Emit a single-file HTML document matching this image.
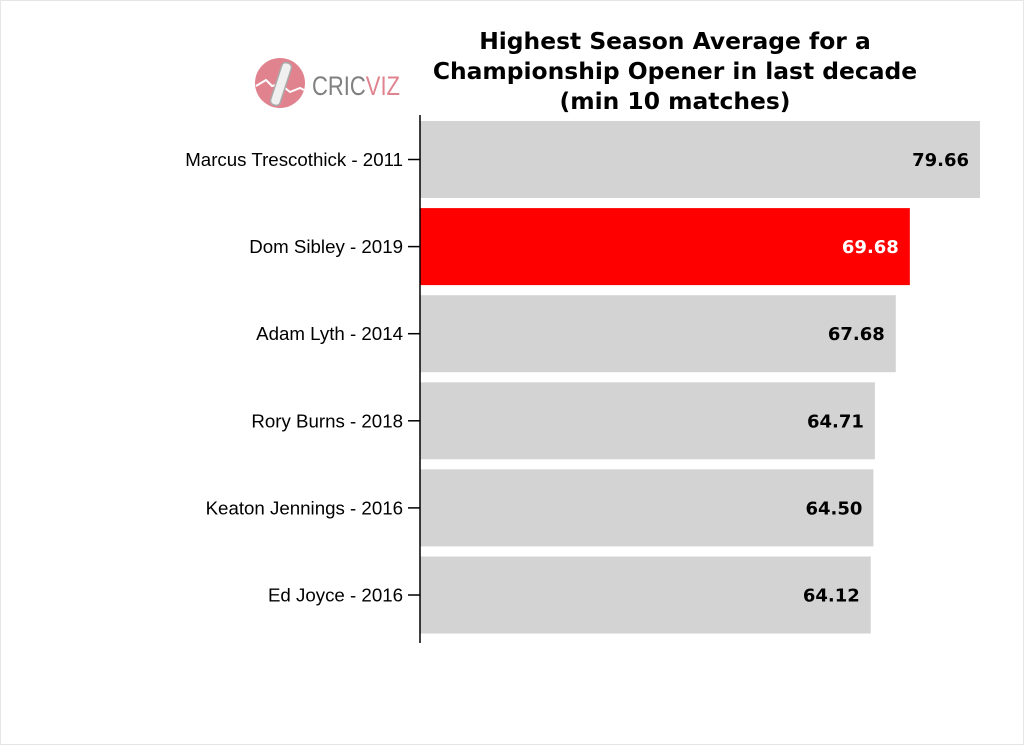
<!DOCTYPE html>
<html><head><meta charset="utf-8"><style>
body{margin:0;background:#fff;}
svg{display:block;font-family:"Liberation Sans",sans-serif;}
</style></head><body>
<svg id="c" width="1024" height="745" viewBox="0 0 1024 745">
<rect x="0.5" y="0.5" width="1023" height="744" fill="#fff" stroke="#e6e6e6"/>
<g font-family="'DejaVu Sans',sans-serif" font-weight="bold" font-size="23.4" text-anchor="middle" fill="#000">
<text x="675" y="49">Highest Season Average for a</text>
<text x="675" y="79">Championship Opener in last decade</text>
<text x="675" y="109">(min 10 matches)</text>
</g>
<g>
<circle cx="280" cy="83" r="25" fill="#e0838e"/>
<path d="M256 86 L266 80 L272 86 L280 84 L290 92 L300 88 L304 90" stroke="#fff" stroke-width="2" fill="none"/>
<rect x="276" y="62" width="10" height="44" rx="4" transform="rotate(18 281 84)" fill="#f0f0f0" stroke="#aaa" stroke-width="1.5"/>
<text x="312" y="95" font-size="27" fill="#808080" textLength="88" lengthAdjust="spacingAndGlyphs">CRIC<tspan fill="#e0838e">VIZ</tspan></text>
</g>
<g id="bars"></g>
<line x1="420" y1="115" x2="420" y2="643" stroke="#000" stroke-width="1.5"/>
</svg>
<script>
const categories=["Marcus Trescothick - 2011","Dom Sibley - 2019","Adam Lyth - 2014","Rory Burns - 2018","Keaton Jennings - 2016","Ed Joyce - 2016"];
const values=[79.66,69.68,67.68,64.71,64.50,64.12];
const highlight=[false,true,false,false,false,false];
const x0=420, scale=560/79.66;
const xs=v=>x0+v*scale;
const yTop=i=>121+i*87.1;
const g=document.getElementById('bars');
const NS='http://www.w3.org/2000/svg';
categories.forEach((c,i)=>{
  const y=yTop(i);
  const r=document.createElementNS(NS,'rect');
  
  
  r.setAttribute('x',x0);r.setAttribute('y',y);
  r.setAttribute('width',xs(values[i])-x0);r.setAttribute('height',77);
  r.setAttribute('fill',highlight[i]?'#ff0000':'#d3d3d3');
  g.appendChild(r);
  const t=document.createElementNS(NS,'line');
  
  
  t.setAttribute('x1',408);t.setAttribute('x2',420);
  t.setAttribute('y1',y+38.5);t.setAttribute('y2',y+38.5);
  t.setAttribute('stroke','#000');t.setAttribute('stroke-width','1.5');
  g.appendChild(t);
  const l=document.createElementNS(NS,'text');
  
  
  l.setAttribute('x',403);l.setAttribute('y',y+45);
  l.setAttribute('text-anchor','end');l.setAttribute('font-size','18.7');
  l.textContent=c;g.appendChild(l);
  const v=document.createElementNS(NS,'text');
  
  
  v.setAttribute('x',xs(values[i])-11);v.setAttribute('y',y+45);
  v.setAttribute('text-anchor','end');v.setAttribute('font-size','18');
  v.setAttribute('font-weight','bold');
  v.setAttribute('font-family',"'DejaVu Sans',sans-serif");
  v.setAttribute('fill',highlight[i]?'#fff':'#000');
  v.textContent=values[i].toFixed(2);g.appendChild(v);
});
</script>
</body></html>
